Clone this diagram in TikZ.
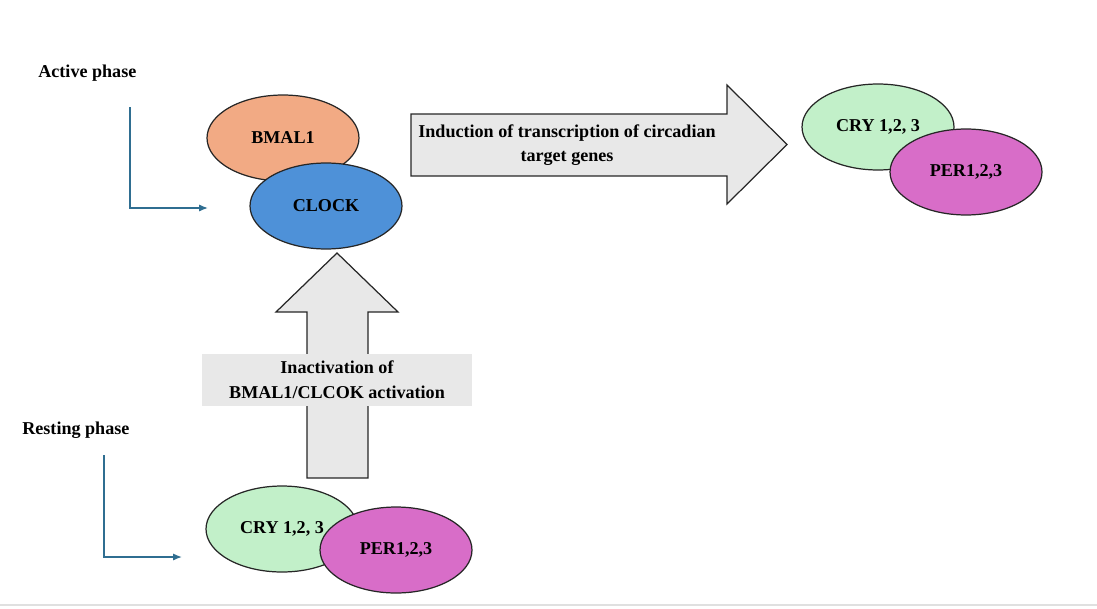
\documentclass[tikz,border=0pt]{standalone}
\usepackage{fontspec}
\setmainfont{Liberation Serif}
\usetikzlibrary{shapes.geometric,arrows.meta}

\definecolor{bmalcol}{HTML}{F2AA84}
\definecolor{clockcol}{HTML}{4E91D8}
\definecolor{crycol}{HTML}{C2F0C9}
\definecolor{percol}{HTML}{D86DC8}
\definecolor{arrowgrey}{HTML}{E8E8E8}
\definecolor{guideblue}{HTML}{2F6E91}

\tikzset{
  prot/.style={ellipse, draw=black!85, line width=0.7pt, minimum width=3.04cm,
    minimum height=1.72cm, inner sep=0pt},
  blockarrow/.style={draw=black!85, fill=arrowgrey, line width=0.7pt},
  phase/.style={anchor=west, inner sep=0pt},
  guide/.style={draw=guideblue, line width=0.8pt, -{Latex[length=5pt,width=4pt]}},
}

\begin{document}
\begin{tikzpicture}[x=0.02cm, y=-0.02cm, font=\fontsize{10.3}{14}\selectfont\bfseries]
      \useasboundingbox (0,0) rectangle (1097,608);
      % active phase
      \node (active) [phase] at (38,73) {Active phase};
      \coordinate (a1) at (130,107);
      \coordinate (a2) at (130,208);
      \coordinate (a3) at (208,208);
      \draw [guide] (a1) -- (a2) -- (a3);
      \node (bmal) [prot, fill=bmalcol] at (283,138) {BMAL1};
      \node (clock) [prot, fill=clockcol] at (326,206) {CLOCK};
      % induction arrow
      \draw [blockarrow] (411,114) -- (727,114) -- (727,85) -- (787,144.5)
        -- (727,204) -- (727,176) -- (411,176) -- cycle;
      \node (induct) [align=center] at (567,145) {Induction of transcription of circadian\\target genes};
      \node (cryA) [prot, fill=crycol] at (878,127) {CRY 1,2, 3};
      \node (perA) [prot, fill=percol] at (966,172) {PER1,2,3};
      % inactivation arrow
      \draw [blockarrow] (307,478) -- (307,312) -- (276,312) -- (337,253)
        -- (398,312) -- (368,312) -- (368,478) -- cycle;
      \node (inact) [fill=arrowgrey, minimum width=5.42cm, minimum height=1.04cm,
        align=center] at (337,380) {Inactivation of\\BMAL1/CLCOK activation};
      % resting phase
      \node (resting) [phase] at (22,430) {Resting phase};
      \coordinate (r1) at (104,455);
      \coordinate (r2) at (104,557);
      \coordinate (r3) at (182,557);
      \draw [guide] (r1) -- (r2) -- (r3);
      \node (cryR) [prot, fill=crycol] at (282,529) {CRY 1,2, 3};
      \node (perR) [prot, fill=percol] at (396,550) {PER1,2,3};
      \draw [black!12, line width=0.6pt] (0,605) -- (1097,605);
\end{tikzpicture}
\end{document}
